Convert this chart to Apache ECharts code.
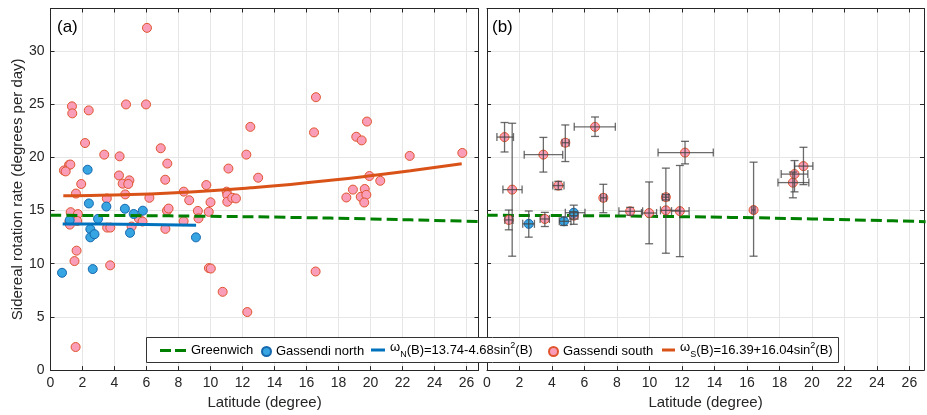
<!DOCTYPE html>
<html>
<head>
<meta charset="utf-8">
<script src="https://cdn.jsdelivr.net/npm/echarts@6/dist/echarts.min.js"></script>
<style>html,body{margin:0;padding:0;background:#fff}#c{width:927px;height:415px}</style>
</head>
<body>
<div id="c"></div>
<script>
// ---------- DATA ----------
// Panel (a): Gassendi south [latitude, rate]
const southA = [
  [6.03,32.18],[1.34,24.8],[1.36,24.14],[2.39,24.42],[4.72,24.98],[5.97,24.98],
  [2.16,21.35],[3.36,20.26],[4.32,20.1],[6.89,20.86],[7.3,19.42],[1.16,19.3],
  [1.24,19.33],[0.84,18.77],[0.95,18.68],[11.12,18.95],[12.49,22.87],[12.24,20.26],
  [12.98,18.09],[4.28,18.3],[1.92,17.5],[4.51,17.53],[4.93,17.84],[4.86,17.5],
  [7.17,17.9],[1.59,16.6],[4.67,16.52],[8.33,16.78],[9.74,17.4],[11.01,16.78],
  [11.05,16.46],[11.05,15.83],[11.36,16.2],[11.59,16.14],[8.67,15.97],[10.0,15.78],
  [6.18,16.2],[3.52,16.14],[1.26,14.85],[1.71,14.67],[1.18,13.93],[1.21,13.68],
  [1.67,14.02],[1.63,11.23],[1.5,10.25],[1.57,2.17],[3.54,13.4],[3.74,13.4],
  [3.73,9.85],[5.07,13.5],[5.52,14.26],[5.75,13.97],[7.18,13.28],[7.28,14.99],
  [7.38,15.19],[8.32,14.0],[9.21,14.97],[9.25,14.27],[9.89,14.88],[9.9,9.59],
  [10.02,9.55],[10.76,7.36],[12.3,5.46],[16.59,25.66],[16.47,22.35],[19.11,21.94],
  [19.45,21.6],[19.78,23.37],[22.45,20.14],[25.74,20.42],[19.93,18.25],[20.61,17.8],
  [18.9,16.97],[19.64,17.03],[18.49,16.23],[19.39,16.29],[19.74,16.48],[19.61,15.76],
  [16.57,9.27]
];
// Panel (a): Gassendi north
const northA = [
  [0.72,9.15],[1.2,14.1],[2.32,18.84],[2.4,15.67],[2.49,13.25],[2.49,12.48],
  [2.75,12.78],[2.97,14.22],[2.64,9.5],[3.49,15.38],[4.65,15.17],[5.2,14.68],
  [4.97,12.91],[5.77,14.99],[9.09,12.48]
];
// Greenwich reference curve
const greenwich = [[0,14.55],[5,14.53],[10,14.46],[15,14.36],[20,14.21],[25,14.04],[27,13.96]];
// Fit curves
const fitNorth = [[0.76,13.74],[3,13.73],[6,13.69],[9.1,13.62]];
const fitSouth = [[0.8,16.39],[2.5,16.42],[5,16.51],[7.5,16.66],[10,16.87],[12.5,17.14],
                  [15,17.46],[17.5,17.84],[20,18.27],[22.5,18.74],[25.7,19.41]];
// Panel (b): [lat, rate, latLow, latHigh, rateLow, rateHigh]
const southB = [
  [1.08,21.91,0.61,1.63,20.51,23.28],
  [1.55,16.97,0.98,2.16,10.71,23.21],
  [1.34,14.12,1.1,1.6,13.19,15.05],
  [3.47,20.26,2.29,4.66,18.62,21.88],
  [3.56,14.21,3.27,3.84,13.5,14.83],
  [4.39,17.35,4.05,4.74,16.97,17.75],
  [4.82,21.38,4.62,5.05,19.61,23.05],
  [5.34,14.52,5.1,5.6,14.2,14.9],
  [6.65,22.87,5.37,7.9,21.97,23.8],
  [7.16,16.2,7.0,7.35,14.8,17.47],
  [8.81,14.93,8.12,9.58,14.56,15.3],
  [9.98,14.77,9.51,10.44,11.88,17.69],
  [11.01,16.26,10.8,11.2,16.0,16.5],
  [11.01,15.02,10.68,11.87,10.99,18.99],
  [11.87,14.95,11.36,12.44,10.67,19.24],
  [12.19,20.45,10.53,13.93,19.39,21.51],
  [16.41,15.05,16.3,16.5,10.71,19.55],
  [18.83,17.63,17.91,19.81,16.2,18.62],
  [18.93,18.43,18.11,19.75,16.76,19.7],
  [19.48,19.18,18.93,20.06,17.44,20.95]
];
const northB = [
  [2.57,13.75,2.2,2.92,12.5,14.96],
  [4.74,13.99,4.45,5.17,13.6,14.4],
  [5.34,14.8,4.82,6.03,13.71,15.51]
];
const xTickStep = 2, yTickStep = 5;
const names = {
  g: 'Greenwich', n: 'Gassendi north', fn: 'wN(B)=13.74-4.68sin2(B)',
  s: 'Gassendi south', fs: 'wS(B)=16.39+16.04sin2(B)'
};
const labelTexts = {
  xName: 'Latitude (degree)', yName: 'Sidereal rotation rate (degrees per day)',
  a: '(a)', b: '(b)'
};

// ---------- STYLE ----------
const FONT = "'Liberation Sans', Arial, Helvetica, sans-serif";
const AX = '#262626';
const PINK = '#F99DB9', PINK_B = '#E0552E';
const BLUE = '#36A5E2', BLUE_B = '#1668AE';
const GREEN = '#008000', ORANGE = '#D95319', DBLUE = '#0072BD';

function xAxisCfg(gi, max, showLabel, pos) {
  return {
    type: 'value', gridIndex: gi, min: 0, max: max, interval: xTickStep, position: pos,
    axisLine: { show: true, onZero: false, lineStyle: { color: AX, width: 1 } },
    axisTick: { show: true, inside: true, length: 4, lineStyle: { color: AX } },
    axisLabel: { show: showLabel, color: AX, fontSize: 14, fontFamily: FONT, margin: 6,
      formatter: v => (Math.abs(v % xTickStep) < 1e-9 ? String(v) : '') },
    splitLine: { show: pos === 'bottom', lineStyle: { color: '#e6e6e6', width: 1 } },
    name: (pos === 'bottom') ? labelTexts.xName : '', nameLocation: 'middle', nameGap: 24,
    nameTextStyle: { fontSize: 15, color: AX, fontFamily: FONT }
  };
}
function yAxisCfg(gi, showLabel, pos, name) {
  return {
    type: 'value', gridIndex: gi, min: 0, max: 34, interval: yTickStep, position: pos,
    axisLine: { show: true, onZero: false, lineStyle: { color: AX, width: 1 } },
    axisTick: { show: true, inside: true, length: 4, lineStyle: { color: AX } },
    axisLabel: { show: showLabel, color: AX, fontSize: 14, fontFamily: FONT, margin: 6,
      formatter: v => (Math.abs(v % yTickStep) < 1e-9 ? String(v) : '') },
    splitLine: { show: pos === 'left', lineStyle: { color: '#e6e6e6', width: 1 } },
    name: name || '', nameLocation: 'middle', nameGap: 25,
    nameTextStyle: { fontSize: 15, color: AX, fontFamily: FONT }
  };
}

function errRender(params, api) {
  const x = api.value(0), y = api.value(1);
  const xl = api.value(2), xh = api.value(3), yl = api.value(4), yh = api.value(5);
  const a = api.coord([x, yl]), b = api.coord([x, yh]);
  const c = api.coord([xl, y]), d = api.coord([xh, y]);
  const cap = 4;
  const st = { stroke: 'rgba(70,70,70,0.8)', lineWidth: 1.3 };
  const L = (x1, y1, x2, y2) => ({ type: 'line', shape: { x1, y1, x2, y2 }, style: st });
  return { type: 'group', children: [
    L(a[0], a[1], b[0], b[1]),
    L(a[0] - cap, a[1], a[0] + cap, a[1]),
    L(b[0] - cap, b[1], b[0] + cap, b[1]),
    L(c[0], c[1], d[0], d[1]),
    L(c[0], c[1] - cap, c[0], c[1] + cap),
    L(d[0], d[1] - cap, d[0], d[1] + cap)
  ]};
}

const pinkStyle = { color: PINK, borderColor: PINK_B, borderWidth: 1, opacity: 1 };
const blueStyle = { color: BLUE, borderColor: BLUE_B, borderWidth: 1, opacity: 1 };

const richText = {
  w: { fontSize: 13, fontFamily: FONT, color: '#000', padding: [0, 0, 5, 0] },
  sub: { fontSize: 9, fontFamily: FONT, color: '#000', padding: [9, 0, 0, 0] },
  sup: { fontSize: 9, fontFamily: FONT, color: '#000', padding: [0, 0, 8, 0] },
  t: { fontSize: 13, fontFamily: FONT, color: '#000' }
};
function legendFmt(n) {
  if (n === names.fn) return '{w|ω}{sub|N}{t|(B)=13.74-4.68sin}{sup|2}{t|(B)}';
  if (n === names.fs) return '{w|ω}{sub|S}{t|(B)=16.39+16.04sin}{sup|2}{t|(B)}';
  return n;
}
function oneLegend(name, left, w, h, icon, color, top) {
  const lg = {
    data: [name], left: left, top: top, padding: 0, z: 12,
    itemWidth: w, itemHeight: h, selectedMode: false, icon: icon,
    textStyle: { fontSize: 13, color: '#000', fontFamily: FONT, rich: richText },
    formatter: legendFmt
  };
  if (color) { lg.itemStyle = { color: color, borderWidth: 0 }; }
  return lg;
}

const option = {
  animation: false,
  backgroundColor: '#fff',
  grid: [
    { left: 50.5, top: 8.5, width: 428, height: 365, show: false },
    { left: 487, top: 8.5, width: 438, height: 365, show: false }
  ],
  xAxis: [
    xAxisCfg(0, 26.75, true, 'bottom'),
    xAxisCfg(1, 26.9, true, 'bottom'),
    xAxisCfg(0, 26.75, false, 'top'),
    xAxisCfg(1, 26.9, false, 'top')
  ],
  yAxis: [
    yAxisCfg(0, true, 'left', labelTexts.yName),
    yAxisCfg(1, false, 'left'),
    yAxisCfg(0, false, 'right'),
    yAxisCfg(1, false, 'right')
  ],
  legend: [
    oneLegend(names.g, 160, 26, 3, 'path://M0,0h11v3h-11z M15,0h11v3h-11z', GREEN, 344),
    oneLegend(names.n, 261, 9, 9, 'circle', null, 345),
    oneLegend(names.fn, 371, 14, 3, 'path://M0,0h14v3h-14z', DBLUE, 341),
    oneLegend(names.s, 548, 9, 9, 'circle', null, 345),
    oneLegend(names.fs, 662, 13, 3, 'path://M0,0h13v3h-13z', ORANGE, 341)
  ],
  graphic: [
    { type: 'rect', z: 11, shape: { x: 146.5, y: 337.5, width: 692, height: 25 },
      style: { fill: '#fff', stroke: '#333', lineWidth: 1 } },
    { type: 'text', left: 57, top: 19, style: { text: labelTexts.a, fontSize: 17, fontFamily: FONT, fill: '#000' } },
    { type: 'text', left: 492, top: 19, style: { text: labelTexts.b, fontSize: 17, fontFamily: FONT, fill: '#000' } }
  ],
  series: [
    { name: names.s, type: 'scatter', xAxisIndex: 0, yAxisIndex: 0, data: southA,
      symbol: 'circle', symbolSize: 9, itemStyle: pinkStyle, z: 2 },
    { name: names.n, type: 'scatter', xAxisIndex: 0, yAxisIndex: 0, data: northA,
      symbol: 'circle', symbolSize: 9, itemStyle: blueStyle, z: 2 },
    { name: names.g, type: 'line', xAxisIndex: 0, yAxisIndex: 0, data: greenwich, smooth: true,
      showSymbol: false, symbol: 'none', lineStyle: { color: GREEN, width: 3, type: [11, 5] },
      itemStyle: { color: GREEN }, z: 3 },
    { name: names.fn, type: 'line', xAxisIndex: 0, yAxisIndex: 0, data: fitNorth, smooth: true,
      showSymbol: false, symbol: 'none', lineStyle: { color: DBLUE, width: 3 }, itemStyle: { color: DBLUE }, z: 3 },
    { name: names.fs, type: 'line', xAxisIndex: 0, yAxisIndex: 0, data: fitSouth, smooth: true,
      showSymbol: false, symbol: 'none', lineStyle: { color: ORANGE, width: 3 }, itemStyle: { color: ORANGE }, z: 3 },

    { name: names.g, type: 'line', xAxisIndex: 1, yAxisIndex: 1, data: greenwich, smooth: true,
      showSymbol: false, symbol: 'none', lineStyle: { color: GREEN, width: 3, type: [11, 5] },
      itemStyle: { color: GREEN }, z: 1 },
    { name: names.s, type: 'scatter', xAxisIndex: 1, yAxisIndex: 1, data: southB,
      encode: { x: 0, y: 1 }, symbol: 'circle', symbolSize: 9, itemStyle: pinkStyle, z: 2 },
    { name: names.n, type: 'scatter', xAxisIndex: 1, yAxisIndex: 1, data: northB,
      encode: { x: 0, y: 1 }, symbol: 'circle', symbolSize: 9, itemStyle: blueStyle, z: 2 },
    { type: 'custom', xAxisIndex: 1, yAxisIndex: 1, data: southB.concat(northB),
      encode: { x: 0, y: 1 }, renderItem: errRender, z: 4, silent: true }
  ]
};
const chart = echarts.init(document.getElementById('c'), null, { renderer: 'canvas' });
chart.setOption(option);
</script>
</body>
</html>
